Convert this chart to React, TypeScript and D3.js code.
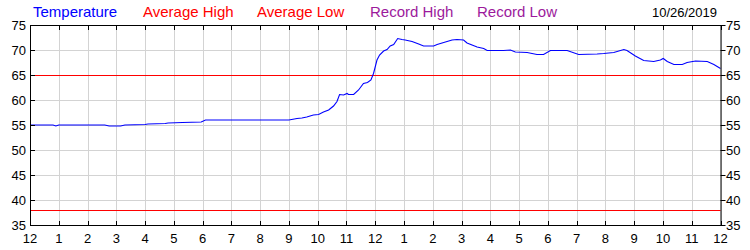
import React from "react";
import * as d3 from "d3";

const hours: number[] = [
  0, 0.8, 0.9, 1.0, 2.6, 2.75, 3.15, 3.3, 4.0, 4.1, 4.7, 4.8, 5.3, 5.95, 6.1, 9.0,
  9.28, 9.45, 9.62, 9.85, 10.03, 10.2, 10.38, 10.55, 10.67, 10.76, 10.9, 11.02, 11.07, 11.25,
  11.42, 11.59, 11.73, 11.85, 11.94, 12.06, 12.15, 12.29, 12.41, 12.52, 12.64, 12.78, 12.93,
  13.04, 13.28, 13.51, 13.68, 14.03, 14.15, 14.38, 14.67, 14.84, 15.07, 15.19, 15.54, 15.77,
  15.89, 16.46, 16.7, 16.87, 17.28, 17.62, 17.85, 18.09, 18.67, 19.07, 19.71, 19.94, 20.29,
  20.64, 20.75, 21.04, 21.33, 21.68, 21.91, 22.01, 22.15, 22.38, 22.67, 22.84, 23.13, 23.54,
  23.77, 24,
];
const temperature: number[] = [
  55, 55, 54.8, 55, 55, 54.8, 54.8, 55, 55.1, 55.2, 55.3, 55.4, 55.5, 55.6, 56, 56,
  56.3, 56.4, 56.6, 57, 57.1, 57.6, 58, 58.8, 59.7, 61.1, 61, 61.3, 61.1, 61.1,
  62, 63.3, 63.5, 64, 65.3, 68, 69, 69.8, 70.1, 70.8, 71.1, 72.3, 72.1,
  72, 71.7, 71.2, 70.8, 70.8, 71.1, 71.5, 72, 72.1, 72, 71.4, 70.6, 70.3,
  69.9, 69.9, 70, 69.6, 69.5, 69.1, 69.1, 69.9, 69.9, 69.1, 69.2, 69.3, 69.5,
  70.1, 69.9, 68.8, 67.9, 67.7, 68, 68.3, 67.7, 67.1, 67.1, 67.5, 67.8, 67.7,
  67.1, 66.3,
];
const averageHigh = 65;
const averageLow = 38;
const xTickLabels: string[] = [
  "12", "1", "2", "3", "4", "5", "6", "7", "8", "9", "10", "11",
  "12", "1", "2", "3", "4", "5", "6", "7", "8", "9", "10", "11", "12",
];
const yTicks: number[] = [35, 40, 45, 50, 55, 60, 65, 70, 75];
const legendItems: { label: string; color: string }[] = [
  { label: "Temperature", color: "#0000ff" },
  { label: "Average High", color: "#ff0000" },
  { label: "Average Low", color: "#ff0000" },
  { label: "Record High", color: "#9c1a9c" },
  { label: "Record Low", color: "#9c1a9c" },
];
const legendX: number[] = [33, 143, 257, 370, 477];
const dateLabel = "10/26/2019";

export default function App() {
  const W = 750, H = 250;
  const left = 30, right = 720.5, top = 25, bottom = 225;
  const x = d3.scaleLinear().domain([0, 24]).range([left, right]);
  const y = d3.scaleLinear().domain([35, 75]).range([bottom, top]);
  const line = d3
    .line<number>()
    .x((_, i) => x(hours[i]))
    .y((d) => y(d));
  const font = "'Liberation Sans', Arial, sans-serif";
  const xt = d3.range(0, 25);
  return (
    <svg
      width={W}
      height={H}
      style={{ position: "absolute", left: 0, top: 0, background: "#fff" }}
      fontFamily={font}
    >
      <rect x={0} y={0} width={W} height={H} fill="#fff" />
      {xt.map((h) => (
        <line key={"gx" + h} x1={Math.round(x(h)) + 0.5} x2={Math.round(x(h)) + 0.5} y1={top} y2={bottom} stroke="#d3d3d3" />
      ))}
      {yTicks.map((v) => (
        <line key={"gy" + v} x1={left} x2={right} y1={Math.round(y(v)) + 0.5} y2={Math.round(y(v)) + 0.5} stroke="#d3d3d3" />
      ))}
      <line x1={left} x2={right} y1={Math.round(y(averageHigh)) + 0.5} y2={Math.round(y(averageHigh)) + 0.5} stroke="#ff0000" />
      <line x1={left} x2={right} y1={Math.round(y(averageLow)) + 0.5} y2={Math.round(y(averageLow)) + 0.5} stroke="#ff0000" />
      <path d={line(temperature) || ""} fill="none" stroke="#0000ff" strokeWidth={1.1} />
      <rect x={left + 0.5} y={top + 0.5} width={right - left} height={bottom - top} fill="none" stroke="#000" />
      {xt.map((h) => (
        <g key={"tx" + h}>
          <line x1={Math.round(x(h)) + 0.5} x2={Math.round(x(h)) + 0.5} y1={top} y2={top + 5} stroke="#000" />
          <line x1={Math.round(x(h)) + 0.5} x2={Math.round(x(h)) + 0.5} y1={bottom - 4} y2={bottom} stroke="#000" />
          <text x={x(h)} y={243} fontSize={13} textAnchor="middle" fill="#000">
            {xTickLabels[h]}
          </text>
        </g>
      ))}
      {yTicks.map((v) => (
        <g key={"ty" + v}>
          <line x1={left} x2={left + 5} y1={Math.round(y(v)) + 0.5} y2={Math.round(y(v)) + 0.5} stroke="#000" />
          <line x1={right} x2={right + 5} y1={Math.round(y(v)) + 0.5} y2={Math.round(y(v)) + 0.5} stroke="#000" />
          <text x={26} y={y(v) + 5} fontSize={13} textAnchor="end" fill="#000">
            {v}
          </text>
          <text x={726} y={y(v) + 5} fontSize={13} textAnchor="start" fill="#000">
            {v}
          </text>
        </g>
      ))}
      {legendItems.map((it, i) => (
        <text key={it.label} x={legendX[i]} y={17} fontSize={15} fill={it.color}>
          {it.label}
        </text>
      ))}
      <text x={717} y={17} fontSize={13} textAnchor="end" fill="#000">
        {dateLabel}
      </text>
    </svg>
  );
}
